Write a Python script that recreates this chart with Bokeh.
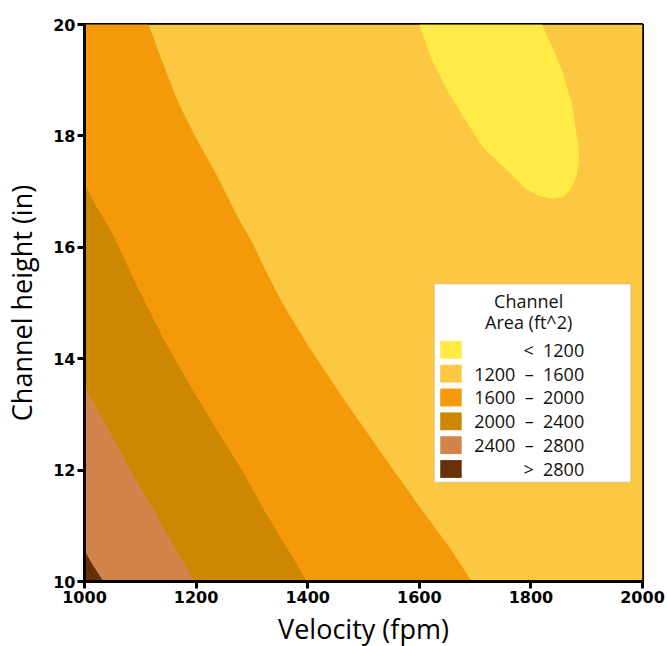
from bokeh.plotting import figure
from bokeh.models import Range1d, BoxAnnotation, Label
from bokeh.embed import file_html
from bokeh.resources import INLINE

# ---------------- data ----------------
x_ticks = [1000, 1200, 1400, 1600, 1800, 2000]
y_ticks = [10, 12, 14, 16, 18, 20]
levels = [1200, 1600, 2000, 2400, 2800]
legend_labels = ["<\u00a0\u00a01200",
                 "1200\u00a0\u00a0\u2013\u00a0\u00a01600",
                 "1600\u00a0\u00a0\u2013\u00a0\u00a02000",
                 "2000\u00a0\u00a0\u2013\u00a0\u00a02400",
                 "2400\u00a0\u00a0\u2013\u00a0\u00a02800",
                 ">\u00a0\u00a02800"]
band_colors = ["#FFEA46", "#FCC841", "#F4990A", "#CD8700", "#D2844A", "#673108"]

# contour lines (velocity, height) read along each level boundary
iso_1200_x = [1600, 1611, 1622, 1652, 1682, 1712, 1754, 1790, 1815, 1837, 1857,
              1872, 1882, 1886, 1885, 1873, 1855, 1837, 1820]
iso_1200_y = [20.0, 19.68, 19.38, 18.78, 18.3, 17.82, 17.41, 17.05, 16.92, 16.87, 16.9,
              17.05, 17.29, 17.55, 17.82, 18.6, 19.2, 19.62, 20.0]

iso_1600_x = [1115, 1133, 1168, 1198, 1234, 1273, 1300, 1326, 1354, 1401, 1458,
              1527, 1599, 1652, 1694]
iso_1600_y = [20.0, 19.5, 18.6, 18.0, 17.35, 16.57, 16.1, 15.55, 15.01, 14.23, 13.37,
              12.38, 11.36, 10.64, 10.0]

iso_2000_x = [1000, 1020, 1049, 1091, 1142, 1170, 1198, 1240, 1288, 1324, 1348, 1372, 1398]
iso_2000_y = [17.15, 16.75, 16.27, 15.37, 14.35, 13.85, 13.37, 12.68, 11.9, 11.24, 10.85, 10.45, 10.0]

iso_2400_x = [1000, 1049, 1091, 1127, 1163, 1198]
iso_2400_y = [13.5, 12.62, 11.84, 11.24, 10.58, 10.0]

iso_2800_x = [1000, 1016, 1034]
iso_2800_y = [10.55, 10.28, 10.0]

x_min, x_max = x_ticks[0], x_ticks[-1]
y_min, y_max = y_ticks[0], y_ticks[-1]

# ---------------- figure ----------------
p = figure(frame_width=558, frame_height=557,
           x_range=Range1d(x_min, x_max), y_range=Range1d(y_min, y_max),
           output_backend="svg", toolbar_location=None,
           min_border_left=78, min_border_right=23, min_border_top=24, min_border_bottom=60,
           background_fill_color="white", border_fill_color="white")
p.grid.visible = False
p.outline_line_color = "black"
p.outline_line_width = 3

# 1200 - 1600 band covers the whole field, others are drawn on top
p.quad(left=x_min, right=x_max, bottom=y_min, top=y_max,
       fill_color=band_colors[1], line_color=None)
p.patch(iso_1600_x + [x_min, x_min], iso_1600_y + [y_min, y_max],
        fill_color=band_colors[2], line_color=None)
p.patch(iso_2000_x + [x_min], iso_2000_y + [y_min],
        fill_color=band_colors[3], line_color=None)
p.patch(iso_2400_x + [x_min], iso_2400_y + [y_min],
        fill_color=band_colors[4], line_color=None)
p.patch(iso_2800_x + [x_min], iso_2800_y + [y_min],
        fill_color=band_colors[5], line_color=None)
p.patch(iso_1200_x, iso_1200_y, fill_color=band_colors[0], line_color=None)

# axes
p.xaxis.ticker = x_ticks
p.yaxis.ticker = y_ticks
p.xaxis.axis_label = "Velocity (fpm)"
p.yaxis.axis_label = "Channel height (in)"
for ax in (p.xaxis[0], p.yaxis[0]):
    ax.axis_line_width = 3
    ax.axis_line_color = "black"
    ax.major_tick_line_width = 3
    ax.major_tick_line_color = "black"
    ax.major_tick_out = 7
    ax.major_tick_in = 0
    ax.minor_tick_line_color = None
    ax.major_label_text_font = "DejaVu Sans"
    ax.major_label_text_font_size = "16px"
    ax.major_label_text_font_style = "bold"
    ax.major_label_text_color = "black"
    ax.major_label_standoff = 2
    ax.axis_label_text_font = "Open Sans"
    ax.axis_label_text_font_size = "27px"
    ax.axis_label_text_font_style = "normal"
    ax.axis_label_text_color = "black"
p.xaxis.axis_label_standoff = 4
p.yaxis.axis_label_standoff = 10

# ---------------- legend (layout positions) ----------------
lg_left, lg_right, lg_bottom, lg_top = 1627, 1979, 11.78, 15.34
p.add_layout(BoxAnnotation(left=lg_left, right=lg_right, bottom=lg_bottom, top=lg_top,
                           fill_color="white", fill_alpha=1.0,
                           line_color="#A8A8A8", line_width=1.5))
title_x = 1796
for txt, ty in (("Channel", 15.04), ("Area (ft^2)", 14.65)):
    p.add_layout(Label(x=title_x, y=ty, text=txt, text_align="center", text_baseline="middle",
                       text_font="Open Sans", text_font_size="18px", text_color="#111111"))
row_top, row_step, sw_half = 14.16, 0.428, 0.16
for i, (lab, col) in enumerate(zip(legend_labels, band_colors)):
    yc = row_top - i * row_step
    p.add_layout(BoxAnnotation(left=1637.5, right=1676, bottom=yc - sw_half, top=yc + sw_half,
                               fill_color=col, fill_alpha=1.0, line_color=None))
    p.add_layout(Label(x=1895.5, y=yc, text=lab, text_align="right", text_baseline="middle",
                       text_font="Open Sans", text_font_size="18px", text_color="#111111"))

open("out.html", "w", encoding="utf-8").write(file_html(p, INLINE))
